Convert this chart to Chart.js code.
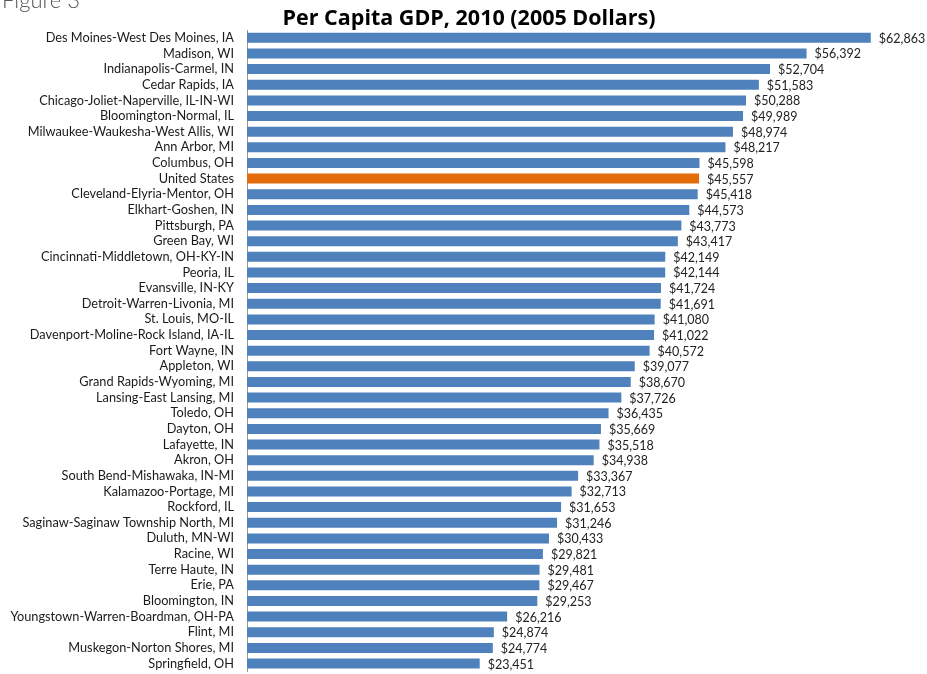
<!DOCTYPE html>
<html lang="en">
<head>
    <meta charset="UTF-8">
    <title>Per Capita GDP, 2010</title>
    <style>
        html, body { margin: 0; padding: 0; background: #fff; overflow: hidden; }
        .container { width: 927px; height: 674px; position: relative; overflow: hidden; }
        canvas { display: block; }
    </style>
    <script src="https://cdn.jsdelivr.net/npm/chart.js"></script>
</head>
<body>
<div class="container">
    <canvas id="myChart" width="927" height="692"></canvas>
</div>
<script>
    // areas, top to bottom
    var areas = [
        'Des Moines-West Des Moines, IA', 'Madison, WI', 'Indianapolis-Carmel, IN', 'Cedar Rapids, IA',
        'Chicago-Joliet-Naperville, IL-IN-WI', 'Bloomington-Normal, IL', 'Milwaukee-Waukesha-West Allis, WI',
        'Ann Arbor, MI', 'Columbus, OH', 'United States', 'Cleveland-Elyria-Mentor, OH', 'Elkhart-Goshen, IN',
        'Pittsburgh, PA', 'Green Bay, WI', 'Cincinnati-Middletown, OH-KY-IN', 'Peoria, IL', 'Evansville, IN-KY',
        'Detroit-Warren-Livonia, MI', 'St. Louis, MO-IL', 'Davenport-Moline-Rock Island, IA-IL', 'Fort Wayne, IN',
        'Appleton, WI', 'Grand Rapids-Wyoming, MI', 'Lansing-East Lansing, MI', 'Toledo, OH', 'Dayton, OH',
        'Lafayette, IN', 'Akron, OH', 'South Bend-Mishawaka, IN-MI', 'Kalamazoo-Portage, MI', 'Rockford, IL',
        'Saginaw-Saginaw Township North, MI', 'Duluth, MN-WI', 'Racine, WI', 'Terre Haute, IN', 'Erie, PA',
        'Bloomington, IN', 'Youngstown-Warren-Boardman, OH-PA', 'Flint, MI', 'Muskegon-Norton Shores, MI',
        'Springfield, OH'
    ];
    var gdp = [
        62863, 56392, 52704, 51583, 50288, 49989, 48974, 48217, 45598, 45557, 45418, 44573,
        43773, 43417, 42149, 42144, 41724, 41691, 41080, 41022, 40572, 39077, 38670, 37726,
        36435, 35669, 35518, 34938, 33367, 32713, 31653, 31246, 30433, 29821, 29481, 29467,
        29253, 26216, 24874, 24774, 23451
    ];
    var highlight = 'United States';

    var colores = areas.map(a => a === highlight ? '#E46C0A' : '#4F81BD');

    var fmt = v => '$' + v.toLocaleString('en-US');

    // etiquetas de valor, titulo y "Figure 3"
    const extras = {
        id: 'extras',
        afterDatasetsDraw(chart) {
            const ctx = chart.ctx;
            const meta = chart.getDatasetMeta(0);
            ctx.save();
            ctx.font = '12.5px Lato';
            ctx.fillStyle = '#222';
            ctx.textAlign = 'left';
            ctx.textBaseline = 'middle';
            meta.data.forEach((bar, i) => {
                ctx.fillText(fmt(gdp[i]), bar.x + 8, bar.y + 1);
            });

            ctx.font = 'bold 21.5px "Open Sans"';
            ctx.fillStyle = '#000';
            ctx.textAlign = 'center';
            ctx.textBaseline = 'alphabetic';
            ctx.fillText('Per Capita GDP, 2010 (2005 Dollars)', 469, 25);

            ctx.font = '300 22px Lato';
            ctx.fillStyle = '#555';
            ctx.textAlign = 'left';
            ctx.fillText('Figure 3', 2, 8);
            ctx.restore();
        }
    };

    const config = {
        type: 'bar',
        data: {
            labels: areas,
            datasets: [{
                data: gdp,
                backgroundColor: colores,
                barPercentage: 0.8,
                categoryPercentage: 0.8
            }]
        },
        options: {
            indexAxis: 'y',
            responsive: false,
            animation: false,
            layout: { padding: { top: 30, bottom: 0, left: 0, right: 35 } },
            plugins: {
                legend: { display: false },
                tooltip: { enabled: false }
            },
            scales: {
                x: {
                    display: false,
                    min: 0,
                    max: 65000
                },
                y: {
                    afterFit: s => { s.width = 247; },
                    grid: { display: false, drawTicks: false },
                    border: { display: true, color: '#999', width: 1 },
                    ticks: {
                        color: '#1a1a1a',
                        padding: 13,
                        autoSkip: false,
                        font: { family: 'Lato', size: 12.75 }
                    }
                }
            }
        },
        plugins: [extras]
    };

    const myChart = new Chart(document.getElementById('myChart'), config);
</script>
</body>
</html>
